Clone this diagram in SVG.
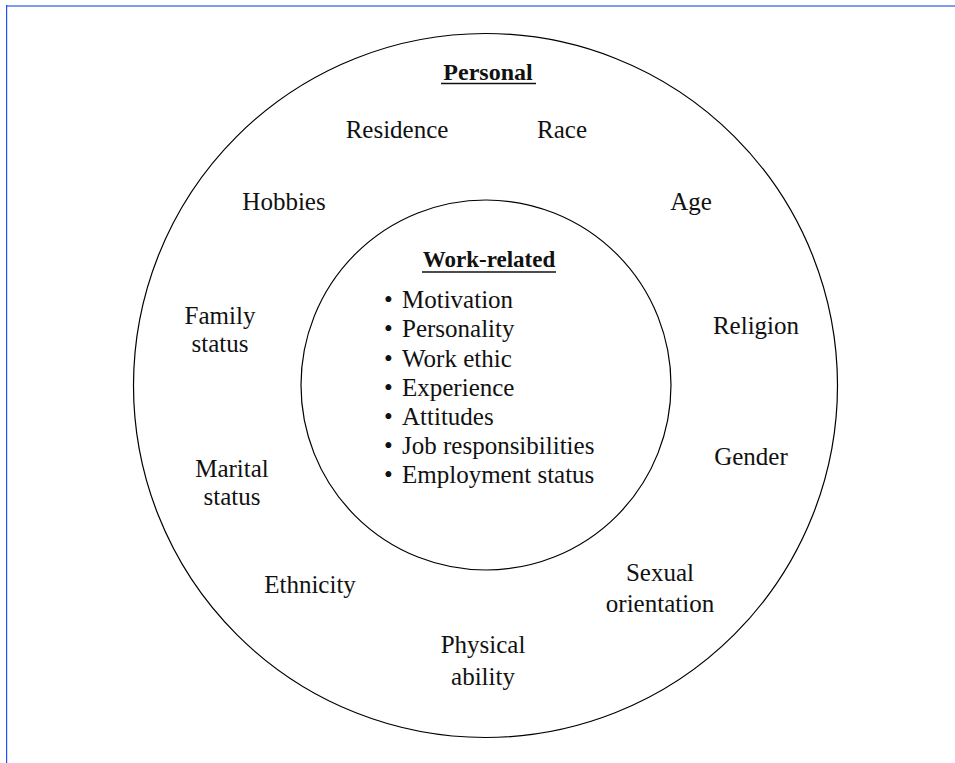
<svg xmlns="http://www.w3.org/2000/svg" width="955" height="763" viewBox="0 0 955 763">
<style>
text{font-family:"Liberation Serif","Times New Roman",serif;font-size:25px;fill:#111}
.c{text-anchor:middle}
.h{font-weight:bold;font-size:24px}
.h2{font-size:23px}
.ring{fill:none;stroke:#000;stroke-width:1.2}
.ul{stroke:#111;stroke-width:1.5}
</style>
<rect x="0" y="0" width="955" height="763" fill="#fff"/>
<rect x="6" y="5" width="949" height="2" fill="#8199f0"/>
<rect x="6" y="5" width="1.2" height="758" fill="#2150ff"/>
<g id="outer"><circle class="ring" cx="485.5" cy="385.5" r="352"/></g>
<g id="inner"><circle class="ring" cx="486" cy="385" r="185"/></g>
<g id="personal-title"><text class="c h" x="488" y="80">Personal</text><line class="ul" x1="441" y1="83.5" x2="536" y2="83.5"/></g>
<g id="residence"><text class="c" x="397" y="138">Residence</text></g>
<g id="race"><text class="c" x="562" y="138">Race</text></g>
<g id="hobbies"><text class="c" x="284" y="210">Hobbies</text></g>
<g id="age"><text class="c" x="691" y="210">Age</text></g>
<g id="family"><text class="c" x="220" y="324">Family</text><text class="c" x="220" y="352">status</text></g>
<g id="religion"><text class="c" x="756" y="334">Religion</text></g>
<g id="gender"><text class="c" x="751" y="465">Gender</text></g>
<g id="marital"><text class="c" x="232" y="477">Marital</text><text class="c" x="232" y="505">status</text></g>
<g id="ethnicity"><text class="c" x="310" y="593">Ethnicity</text></g>
<g id="sexual"><text class="c" x="660" y="581">Sexual</text><text class="c" x="660" y="612">orientation</text></g>
<g id="physical"><text class="c" x="483" y="653">Physical</text><text class="c" x="483" y="685">ability</text></g>
<g id="work-related">
<text class="c h h2" x="489" y="267">Work-related</text><line class="ul" x1="422" y1="272" x2="556" y2="272"/>
<text y="308"><tspan x="384">•</tspan><tspan x="402">Motivation</tspan></text>
<text y="337"><tspan x="384">•</tspan><tspan x="402">Personality</tspan></text>
<text y="367"><tspan x="384">•</tspan><tspan x="402">Work ethic</tspan></text>
<text y="396"><tspan x="384">•</tspan><tspan x="402">Experience</tspan></text>
<text y="425"><tspan x="384">•</tspan><tspan x="402">Attitudes</tspan></text>
<text y="454"><tspan x="384">•</tspan><tspan x="402">Job responsibilities</tspan></text>
<text y="483"><tspan x="384">•</tspan><tspan x="402">Employment status</tspan></text>
</g>
</svg>
